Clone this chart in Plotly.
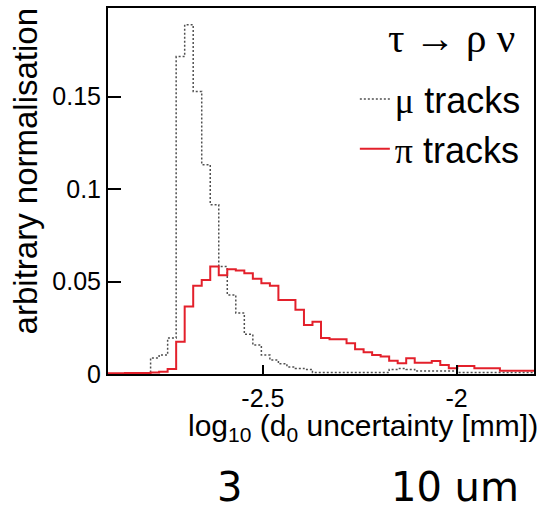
import numpy as np
import plotly.graph_objects as go

# Histogram binning: 50 bins over [-2.9, -1.8]
bin_lo, bin_hi, n_bins = -2.9, -1.8, 50

# pi tracks (red, solid)
pi_vals = [0.0004, 0.0004, 0.0005, 0.0005, 0.0006,
           0.0008, 0.0012, 0.0027,
           0.0175, 0.0365, 0.0478, 0.0509, 0.0581, 0.0534, 0.0567,
           0.0560, 0.0545, 0.0515, 0.0491, 0.0477, 0.0401, 0.0401, 0.0347,
           0.0265, 0.0282, 0.0195, 0.0188, 0.0188, 0.0166, 0.0134, 0.0118, 0.0103, 0.0094,
           0.0072, 0.0058, 0.0085, 0.0061, 0.0061, 0.0070, 0.0049, 0.0031, 0.0043, 0.0043,
           0.0031, 0.0031, 0.0031,
           0.0018, 0.0018, 0.0018, 0.0018]

# mu tracks (grey, dotted)
mu_vals = [0, 0, 0, 0, 0,
           0.0087, 0.0103, 0.0195,
           0.1717, 0.1890, 0.1528, 0.1132, 0.0916, 0.0581, 0.0428,
           0.0330, 0.0215, 0.0157, 0.0103, 0.0076, 0.0055, 0.0038, 0.0030, 0.0025,
           0.0008, 0.0008, 0.0008, 0.0008, 0.0008, 0.0008, 0.0008, 0.0008, 0.0008,
           0.0025, 0.0030, 0.0025,
           0.0016, 0.0016, 0.0016, 0.0016, 0.0016,
           0.0008, 0.0008, 0.0008, 0.0008, 0.0008, 0.0008, 0.0008, 0.0008, 0.0008]

x_tickvals = [-2.5, -2.0]
x_ticktext = ["-2.5", "-2"]
y_tickvals = [0, 0.05, 0.1, 0.15]
y_ticktext = ["0", "0.05", "0.1", "0.15"]

edges = np.linspace(bin_lo, bin_hi, n_bins + 1)

def step_xy(vals):
    return list(edges), list(vals) + [vals[-1]]

SANS = "Liberation Sans"
SERIF = "Liberation Serif"

fig = go.Figure()
mx, my = step_xy(mu_vals)
fig.add_trace(go.Scatter(
    x=mx, y=my, mode="lines", line_shape="hv",
    line=dict(color="#505050", width=1.5, dash="2px,2px"),
    name='<span style="font-family:Liberation Serif">μ</span> tracks',
))
px_, py_ = step_xy(pi_vals)
fig.add_trace(go.Scatter(
    x=px_, y=py_, mode="lines", line_shape="hv",
    line=dict(color="#e3202b", width=2),
    name='<span style="font-family:Liberation Serif">π</span> tracks',
))

L, R, T, B = 108, 5, 8, 132
W, H = 541, 506
pw, ph = W - L - R, H - T - B

def xp(px):
    return (px - L) / pw

def yp(py):
    return (H - B - py) / ph

fig.update_layout(
    width=W, height=H,
    margin=dict(l=L, r=R, t=T, b=B),
    paper_bgcolor="white", plot_bgcolor="white",
    font=dict(family=SANS, color="black"),
    showlegend=True,
    legend=dict(
        x=xp(356), y=yp(69), xanchor="left", yanchor="top",
        bgcolor="rgba(0,0,0,0)", borderwidth=0,
        font=dict(family=SANS, size=36, color="black"),
        tracegroupgap=0,
    ),
    xaxis=dict(
        range=[bin_lo, bin_hi], showgrid=False, zeroline=False,
        showline=True, linecolor="black", linewidth=2, mirror=True,
        ticks="inside", ticklen=9, tickwidth=2, tickcolor="black",
        tickvals=x_tickvals, ticktext=x_ticktext, ticklabelstandoff=1,
        tickfont=dict(family=SANS, size=25, color="black"),
    ),
    yaxis=dict(
        range=[0, 0.198], showgrid=False, zeroline=False,
        showline=True, linecolor="black", linewidth=2, mirror=True,
        ticks="inside", ticklen=13, tickwidth=2, tickcolor="black",
        tickvals=y_tickvals, ticktext=y_ticktext,
        tickfont=dict(family=SANS, size=25, color="black"),
    ),
    annotations=[
        dict(text="arbitrary normalisation", textangle=-90,
             xref="paper", yref="paper", x=xp(25), y=yp(6),
             xanchor="center", yanchor="top", showarrow=False,
             font=dict(family=SANS, size=33, color="black")),
        dict(text="log<sub>10</sub> (d<sub>0</sub> uncertainty [mm])",
             xref="paper", yref="paper", x=xp(542), y=yp(407),
             xanchor="right", yanchor="top", showarrow=False,
             font=dict(family=SANS, size=30, color="black")),
        dict(text="τ → ρ ν",
             xref="paper", yref="paper", x=xp(519), y=yp(38),
             xanchor="right", yanchor="middle", showarrow=False,
             font=dict(family=SERIF, size=41, color="black")),
        dict(text="3",
             xref="paper", yref="paper", x=xp(230), y=yp(487),
             xanchor="center", yanchor="middle", showarrow=False,
             font=dict(family="DejaVu Sans", size=40, color="black")),
        dict(text="10 um",
             xref="paper", yref="paper", x=xp(457), y=yp(487),
             xanchor="center", yanchor="middle", showarrow=False,
             font=dict(family="DejaVu Sans", size=40, color="black")),
    ],
)

fig.write_html(
    "out.html",
    config={"displayModeBar": False},
    post_script="document.body.style.margin='0';document.body.style.overflow='hidden';",
)
